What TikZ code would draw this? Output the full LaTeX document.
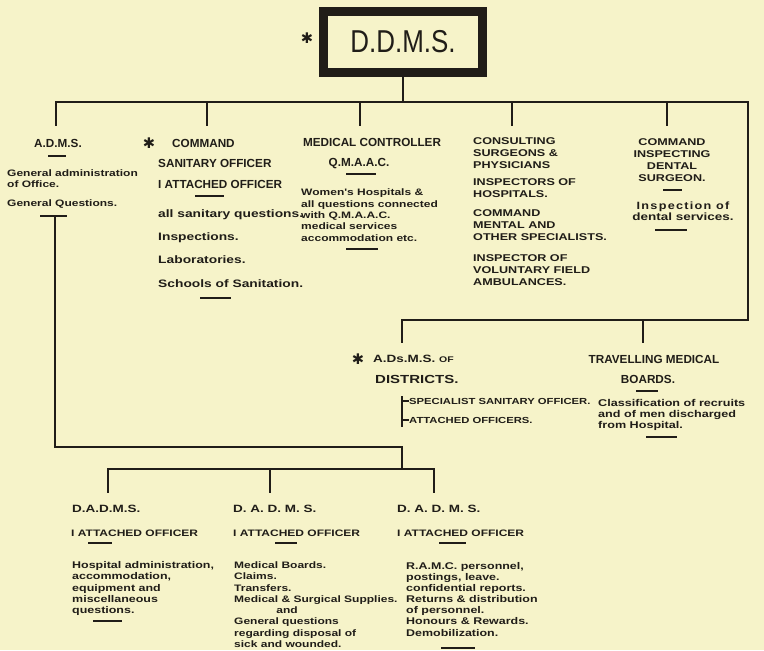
\documentclass[tikz,border=0pt]{standalone}
\usepackage{fontspec}
\setmainfont{Liberation Sans}
\newfontfamily\wideface{Liberation Sans}[FakeStretch=1.28]
\newfontfamily\spacedface{Liberation Sans}[FakeStretch=1.2,LetterSpace=12]
\newfontfamily\symface{DejaVu Sans}
\usetikzlibrary{positioning,calc}

\definecolor{paper}{RGB}{246,243,201}
\definecolor{ink}{RGB}{32,29,24}

\tikzset{
    wire/.style={draw=ink, line width=2.1pt, line cap=rect},
    rule/.style={draw=ink, line width=1.2pt},
    chief/.style={draw=ink, line width=7.7pt, minimum width=4.77cm, minimum height=1.83cm,
        inner sep=0pt, text=ink, font=\fontsize{27}{27}\selectfont},
    starmark/.style={inner sep=0pt, text=ink, font=\symface\fontsize{12.5}{12.5}\selectfont},
    head/.style={inner sep=0pt, text=ink, font=\bfseries\fontsize{10}{12}\selectfont},
    caps/.style={inner sep=0pt, text=ink, align=left, font=\wideface\bfseries\fontsize{8.4}{10}\selectfont},
    note/.style={inner sep=0pt, text=ink, align=left, font=\wideface\bfseries\fontsize{8}{9.8}\selectfont},
    body/.style={inner sep=0pt, text=ink, align=left, font=\wideface\bfseries\fontsize{9.2}{11}\selectfont},
    low/.style={inner sep=0pt, text=ink, align=left, font=\wideface\bfseries\fontsize{8.3}{9.5}\selectfont},
}

\begin{document}
\begin{tikzpicture}[x=0.03cm, y=-0.03cm]
    \fill[paper] (0,0) rectangle (764,650);
    \useasboundingbox (0,0) rectangle (764,650);

    % top of the tree
    \node[chief] (ddms) at (403,42) {\scalebox{0.82}[1]{D.D.M.S.}};
    \node[starmark] (star0) at (307,38) {✱};

    \coordinate (hub) at (403,102);
    \coordinate (hubL) at (56,102);
    \coordinate (hubR) at (748,102);
    \draw[wire] (ddms) -- (hub);
    \draw[wire] (hubL) -- (hubR);
    \foreach \n/\x in {1/56,2/207,3/360,4/512,5/667} {
        \coordinate (drop\n) at (\x,125);
        \draw[wire] (drop\n |- hub) -- (drop\n);
    }

    % right branch
    \coordinate (midR) at (748,320);
    \coordinate (midL) at (402,320);
    \draw[wire] (hubR) -- (midR) -- (midL);
    \foreach \n/\x in {6/402,7/643} {
        \coordinate (drop\n) at (\x,342);
        \draw[wire] (drop\n |- midR) -- (drop\n);
    }

    % left branch
    \coordinate (admsfoot) at (55,216);
    \coordinate (lowbend) at (55,447);
    \coordinate (lowhub) at (402,469);
    \coordinate (lowL) at (108,469);
    \coordinate (lowR) at (434,469);
    \draw[wire] (admsfoot) -- (lowbend) -| (lowhub);
    \draw[wire] (lowL) -- (lowR);
    \foreach \n/\x in {8/108,9/270,10/434} {
        \coordinate (drop\n) at (\x,492);
        \draw[wire] (drop\n |- lowhub) -- (drop\n);
    }

    % A.D.M.S.
    \node[head] (adms) at (58,143) {A.D.M.S.};
    \node[note, anchor=north west] (admsjob) at (7,169) {General administration\\of Office.};
    \node[note, anchor=west] (admsgen) at (7,204) {General Questions.};

    % command sanitary officer
    \node[starmark] (star1) at (149,143) {✱};
    \node[head, anchor=west] (cmd) at (172,143) {COMMAND};
    \node[head, anchor=west] (cso) at (158,163) {SANITARY OFFICER};
    \node[head, anchor=west] (csoatt) at (158,184) {I ATTACHED OFFICER};
    \node[body, anchor=west] (cso1) at (158,215) {all sanitary questions.};
    \node[body, anchor=west] (cso2) at (158,238) {Inspections.};
    \node[body, anchor=west] (cso3) at (158,260) {Laboratories.};
    \node[body, anchor=west] (cso4) at (158,284) {Schools of Sanitation.};

    % medical controller
    \node[head] (medctl) at (372,142) {MEDICAL CONTROLLER};
    \node[head] (qmaac) at (359,164) {Q.M.A.A.C.};
    \node[note, anchor=north west] (qmaacjob) at (301,188.5) {Women's Hospitals \&\\all questions connected\\with Q.M.A.A.C.\\medical services\\accommodation etc.};

    % consulting staff
    \node[caps, anchor=north west] (consult) at (473,137.5) {CONSULTING\\SURGEONS \&\\PHYSICIANS};
    \node[caps, anchor=north west] (insphosp) at (473,178.5) {INSPECTORS OF\\HOSPITALS.};
    \node[caps, anchor=north west] (mental) at (473,209.5) {COMMAND\\MENTAL AND\\OTHER SPECIALISTS.};
    \node[caps, anchor=north west] (vfa) at (473,254.5) {INSPECTOR OF\\VOLUNTARY FIELD\\AMBULANCES.};

    % dental
    \node[caps, align=center, anchor=north, font=\wideface\bfseries\fontsize{8.4}{10.2}\selectfont] (dental) at (672,138.5) {COMMAND\\INSPECTING\\DENTAL\\SURGEON.};
    \node[note, align=center, anchor=north, font=\wideface\bfseries\fontsize{9}{9.4}\selectfont] (dentaljob) at (683,202) {{\spacedface Inspection of}\\dental services.};

    % districts
    \node[starmark] (star2) at (358,359) {✱};
    \node[head, anchor=west, font=\wideface\bfseries\fontsize{9}{11}\selectfont] (adsms) at (373,359) {A.Ds.M.S. {\fontsize{7}{7}\selectfont OF}};
    \node[head, anchor=west, font=\wideface\bfseries\fontsize{10}{12}\selectfont] (distr) at (375,379) {DISTRICTS.};
    \coordinate (brtop) at (402,396);
    \coordinate (brbot) at (402,427);
    \draw[rule] (brtop) -- (brbot);
    \node[caps, anchor=west, font=\wideface\bfseries\fontsize{7.5}{9}\selectfont] (specsan) at (409,401) {SPECIALIST SANITARY OFFICER.};
    \node[caps, anchor=west, font=\wideface\bfseries\fontsize{7.5}{9}\selectfont] (attoff) at (409,420) {ATTACHED OFFICERS.};
    \draw[rule] (specsan.west -| brtop) -- (specsan.west);
    \draw[rule] (attoff.west -| brtop) -- (attoff.west);

    % travelling boards
    \node[head] (travel) at (654,359) {TRAVELLING MEDICAL};
    \node[head] (boards) at (648,379) {BOARDS.};
    \node[note, anchor=north west, font=\wideface\bfseries\fontsize{8.4}{9.4}\selectfont] (boardsjob) at (598,399.5) {Classification of recruits\\and of men discharged\\from Hospital.};

    % deputy assistants
    \node[low, anchor=west, font=\wideface\bfseries\fontsize{9}{11}\selectfont] (dadms1) at (72,509) {D.A.D.M.S.};
    \node[low, anchor=west, font=\wideface\bfseries\fontsize{8}{10}\selectfont] (att1) at (71,533) {I ATTACHED OFFICER};
    \node[low, anchor=north west] (job1) at (72,561.5) {Hospital administration,\\accommodation,\\equipment and\\miscellaneous\\questions.};

    \node[low, anchor=west, font=\wideface\bfseries\fontsize{9}{11}\selectfont] (dadms2) at (233,509) {D. A. D. M. S.};
    \node[low, anchor=west, font=\wideface\bfseries\fontsize{8}{10}\selectfont] (att2) at (233,533) {I ATTACHED OFFICER};
    \node[low, anchor=north west, font=\wideface\bfseries\fontsize{8}{9.6}\selectfont] (job2) at (234,561.5) {Medical Boards.\\Claims.\\Transfers.\\Medical \& Surgical Supplies.\\\hspace*{36pt}and\\General questions\\regarding disposal of\\sick and wounded.};

    \node[low, anchor=west, font=\wideface\bfseries\fontsize{9}{11}\selectfont] (dadms3) at (397,509) {D. A. D. M. S.};
    \node[low, anchor=west, font=\wideface\bfseries\fontsize{8}{10}\selectfont] (att3) at (397,533) {I ATTACHED OFFICER};
    \node[low, anchor=north west] (job3) at (406,562) {R.A.M.C. personnel,\\postings, leave.\\confidential reports.\\Returns \& distribution\\of personnel.\\Honours \& Rewards.\\Demobilization.};

    % short rules under the entries
    \foreach \a/\b/\y in {48/66/156, 40/67/216, 195/224/196, 200/231/298, 346/376/174, 346/378/249,
                         663/682/190, 655/687/230, 636/658/391, 646/677/437,
                         88/112/543, 93/122/621, 275/297/543, 439/466/543, 441/475/648}
        \draw[rule] (\a,\y) -- (\b,\y);
\end{tikzpicture}
\end{document}
